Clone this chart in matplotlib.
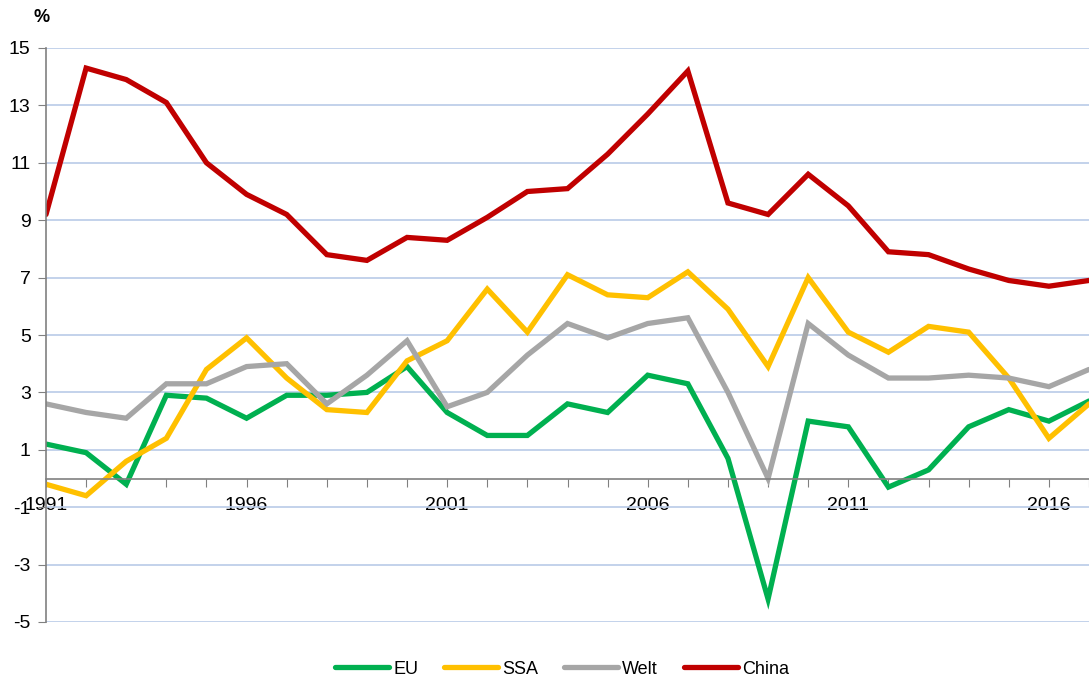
import matplotlib.pyplot as plt

years = list(range(1991, 2018))

eu = [1.2, 0.9, -0.2, 2.9, 2.8, 2.1, 2.9, 2.9, 3.0, 3.9, 2.3, 1.5, 1.5, 2.6,
      2.3, 3.6, 3.3, 0.7, -4.2, 2.0, 1.8, -0.3, 0.3, 1.8, 2.4, 2.0, 2.7]
ssa = [-0.2, -0.6, 0.6, 1.4, 3.8, 4.9, 3.5, 2.4, 2.3, 4.1, 4.8, 6.6, 5.1, 7.1,
       6.4, 6.3, 7.2, 5.9, 3.9, 7.0, 5.1, 4.4, 5.3, 5.1, 3.5, 1.4, 2.6]
welt = [2.6, 2.3, 2.1, 3.3, 3.3, 3.9, 4.0, 2.6, 3.6, 4.8, 2.5, 3.0, 4.3, 5.4,
        4.9, 5.4, 5.6, 3.0, 0.0, 5.4, 4.3, 3.5, 3.5, 3.6, 3.5, 3.2, 3.8]
china = [9.2, 14.3, 13.9, 13.1, 11.0, 9.9, 9.2, 7.8, 7.6, 8.4, 8.3, 9.1, 10.0, 10.1,
         11.3, 12.7, 14.2, 9.6, 9.2, 10.6, 9.5, 7.9, 7.8, 7.3, 6.9, 6.7, 6.9]

labels = ['EU', 'SSA', 'Welt', 'China']
colors = ['#00b050', '#ffc000', '#a6a6a6', '#c00000']
yticks = [-5, -3, -1, 1, 3, 5, 7, 9, 11, 13, 15]
xlabel_years = [1991, 1996, 2001, 2006, 2011, 2016]

plt.rcParams['font.family'] = ['Liberation Sans', 'DejaVu Sans']
plt.rcParams['axes.unicode_minus'] = False

fig = plt.figure(figsize=(10.89, 6.79), dpi=100)
ax = fig.add_axes([46 / 1089, 57 / 679, 1043 / 1089, 574 / 679])

for series, lab, col in zip([eu, ssa, welt, china], labels, colors):
    ax.plot(years, series, color=col, lw=3.8, label=lab,
            solid_joinstyle='miter', solid_capstyle='round')

ax.set_xlim(1991, 1991 + 1043 / 40.36)
ax.set_ylim(-5, 15)
ax.set_yticks(yticks)
ax.tick_params(axis='y', labelsize=14, length=6, color='#808080', pad=5)
ax.yaxis.grid(True, color='#b9cbe8', lw=1.2)
ax.set_axisbelow(True)

ax.spines['top'].set_visible(False)
ax.spines['right'].set_visible(False)
ax.spines['left'].set_color('#808080')
ax.spines['left'].set_linewidth(1.2)
ax.spines['bottom'].set_position(('data', 0))
ax.spines['bottom'].set_color('#808080')
ax.spines['bottom'].set_linewidth(1.2)

ax.set_xticks(years)
ax.set_xticklabels([str(y) if y in xlabel_years else '' for y in years])
ax.tick_params(axis='x', direction='out', length=6, color='#808080',
               labelsize=14, pad=7)

fig.text(33 / 1089, 1 - 18 / 679, '%', fontsize=13, fontweight='bold',
         va='center')

fig.legend(loc='center', bbox_to_anchor=(562 / 1089, 1 - 669 / 679), ncol=4,
           frameon=False, fontsize=13, handlelength=3.0, columnspacing=1.45,
           handletextpad=0.2)

fig.savefig('out.png', dpi=100)
